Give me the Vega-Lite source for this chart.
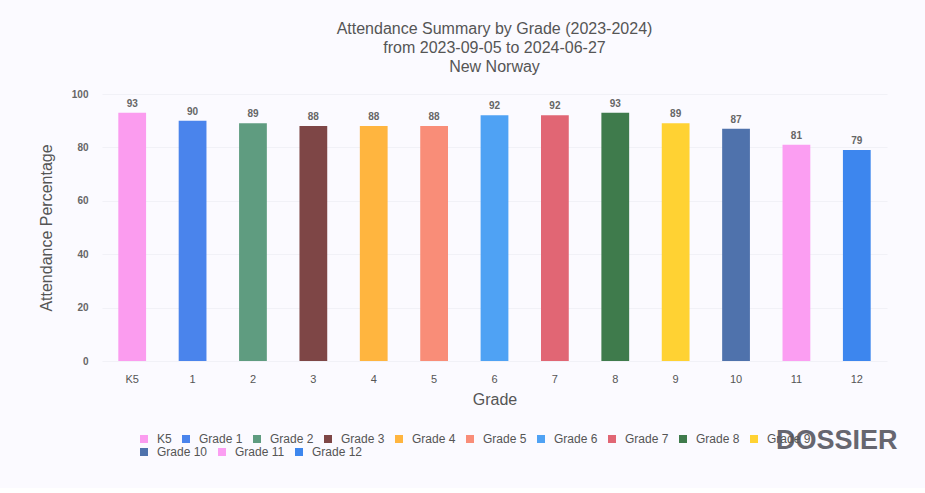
{
  "$schema": "https://vega.github.io/schema/vega-lite/v6.json",
  "width": 785,
  "height": 267,
  "padding": {"left": 38, "top": 21, "right": 35, "bottom": 30},
  "background": "#fbfaff",
  "title": {
    "text": ["Attendance Summary by Grade (2023-2024)", "from 2023-09-05 to 2024-06-27", "New Norway"],
    "font": "Liberation Sans",
    "fontSize": 16,
    "fontWeight": "normal",
    "color": "#555555",
    "lineHeight": 19,
    "anchor": "middle",
    "offset": 14
  },
  "config": {
    "view": {"stroke": null},
    "font": "Liberation Sans",
    "legend": {
      "title": null,
      "orient": "none",
      "direction": "horizontal",
      "symbolType": "square",
      "symbolSize": 64,
      "symbolStrokeWidth": 0,
      "labelFontSize": 12,
      "labelColor": "#555555",
      "labelOffset": 7,
      "columnPadding": 8
    }
  },
  "data": {
    "values": [
      {"grade": "K5", "label": "K5", "row": 1, "pct": 93},
      {"grade": "1", "label": "Grade 1", "row": 1, "pct": 90},
      {"grade": "2", "label": "Grade 2", "row": 1, "pct": 89},
      {"grade": "3", "label": "Grade 3", "row": 1, "pct": 88},
      {"grade": "4", "label": "Grade 4", "row": 1, "pct": 88},
      {"grade": "5", "label": "Grade 5", "row": 1, "pct": 88},
      {"grade": "6", "label": "Grade 6", "row": 1, "pct": 92},
      {"grade": "7", "label": "Grade 7", "row": 1, "pct": 92},
      {"grade": "8", "label": "Grade 8", "row": 1, "pct": 93},
      {"grade": "9", "label": "Grade 9", "row": 1, "pct": 89},
      {"grade": "10", "label": "Grade 10", "row": 2, "pct": 87},
      {"grade": "11", "label": "Grade 11", "row": 2, "pct": 81},
      {"grade": "12", "label": "Grade 12", "row": 2, "pct": 79}
    ]
  },
  "encoding": {
    "x": {
      "field": "grade",
      "type": "nominal",
      "sort": ["K5", "1", "2", "3", "4", "5", "6", "7", "8", "9", "10", "11", "12"],
      "scale": {"paddingInner": 0.54, "paddingOuter": 0.27},
      "axis": {
        "title": "Grade",
        "titleFont": "Liberation Sans",
        "titleFontSize": 16,
        "titleFontWeight": "normal",
        "titleColor": "#555555",
        "titlePadding": 7,
        "labelAngle": 0,
        "labelFontSize": 11,
        "labelColor": "#555555",
        "labelPadding": 12,
        "domain": false,
        "ticks": false
      }
    },
    "y": {
      "field": "pct",
      "type": "quantitative",
      "scale": {"domain": [0, 100]},
      "axis": {
        "title": "Attendance Percentage",
        "titleFont": "Liberation Sans",
        "titleFontSize": 16,
        "titleFontWeight": "normal",
        "titleColor": "#555555",
        "titlePadding": 17,
        "values": [0, 20, 40, 60, 80, 100],
        "labelFontSize": 10,
        "labelFontWeight": "bold",
        "labelColor": "#666666",
        "labelPadding": 14,
        "domain": false,
        "ticks": false,
        "gridColor": "#ebebf2",
        "gridOpacity": 0.6
      }
    }
  },
  "layer": [
    {
      "transform": [{"filter": "datum.row == 1"}],
      "mark": {"type": "bar"},
      "encoding": {
        "color": {
          "field": "label",
          "type": "nominal",
          "sort": ["K5", "Grade 1", "Grade 2", "Grade 3", "Grade 4", "Grade 5", "Grade 6", "Grade 7", "Grade 8", "Grade 9"],
          "scale": {
            "domain": ["K5", "Grade 1", "Grade 2", "Grade 3", "Grade 4", "Grade 5", "Grade 6", "Grade 7", "Grade 8", "Grade 9"],
            "range": ["#fb9cef", "#4a84ec", "#5f9c80", "#7e4646", "#ffb53f", "#f98d78", "#4fa2f4", "#e16674", "#3f7b4c", "#ffd233"]
          },
          "legend": {"orient": "none", "legendX": 36, "legendY": 339}
        }
      }
    },
    {
      "transform": [{"filter": "datum.row == 2"}],
      "mark": {"type": "bar"},
      "encoding": {
        "color": {
          "field": "label",
          "type": "nominal",
          "sort": ["Grade 10", "Grade 11", "Grade 12"],
          "scale": {
            "domain": ["Grade 10", "Grade 11", "Grade 12"],
            "range": ["#4f72ac", "#fb9ef2", "#3d86ee"]
          },
          "legend": {"orient": "none", "legendX": 36, "legendY": 352}
        }
      }
    },
    {
      "mark": {"type": "text", "dy": -9, "fontSize": 10, "fontWeight": "bold", "color": "#666666"},
      "encoding": {
        "text": {"field": "pct", "type": "quantitative"}
      }
    },
    {
      "data": {"values": [{"brand": "DOSSIER", "grade": "12", "pct": -30}]},
      "mark": {"type": "text", "fontSize": 27, "fontWeight": "bold", "color": "#666670", "dx": -20, "clip": false},
      "encoding": {
        "text": {"field": "brand", "type": "nominal"}
      }
    }
  ],
  "resolve": {"scale": {"color": "independent"}, "legend": {"color": "independent"}}
}
